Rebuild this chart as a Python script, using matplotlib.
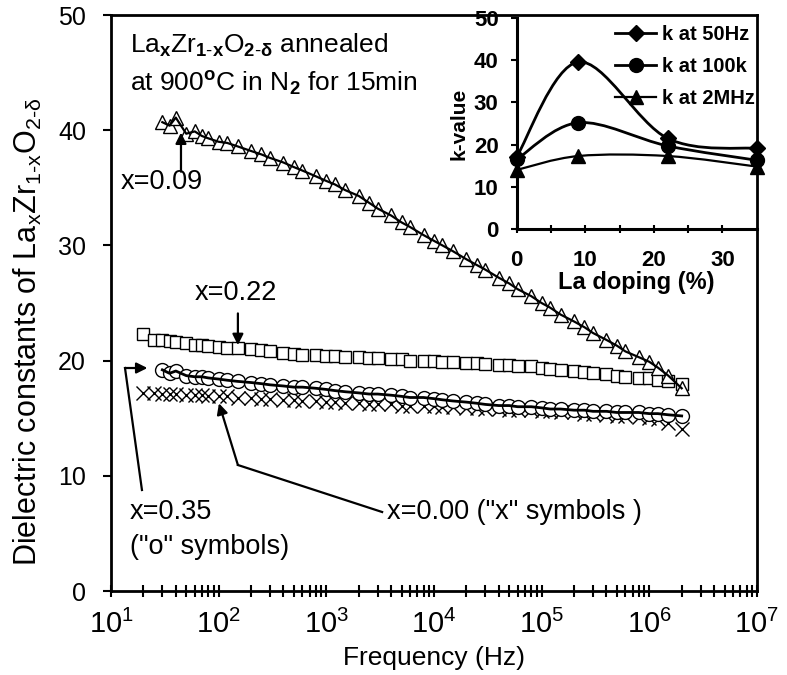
import matplotlib
matplotlib.use('Agg')
import matplotlib.pyplot as plt
from matplotlib.path import Path
from matplotlib.patches import PathPatch
from matplotlib.lines import Line2D
from matplotlib.ticker import LogLocator, FixedLocator, NullFormatter, FixedFormatter
import numpy as np

plt.rcParams['font.family'] = ['Liberation Sans', 'DejaVu Sans']
plt.rcParams['mathtext.fontset'] = 'custom'
plt.rcParams['mathtext.rm'] = 'Liberation Sans'
plt.rcParams['mathtext.it'] = 'Liberation Sans:italic'
plt.rcParams['mathtext.bf'] = 'Liberation Sans:bold'

# ---------------- data ----------------
freq_all = [20, 25, 30, 35, 40, 50, 60, 70, 80,
            100, 120, 150, 200, 250, 300, 400, 500, 600, 800,
            1e3, 1.2e3, 1.5e3, 2e3, 2.5e3, 3e3, 4e3, 5e3, 6e3, 8e3,
            1e4, 1.2e4, 1.5e4, 2e4, 2.5e4, 3e4, 4e4, 5e4, 6e4, 8e4,
            1e5, 1.2e5, 1.5e5, 2e5, 2.5e5, 3e5, 4e5, 5e5, 6e5, 8e5,
            1e6, 1.2e6, 1.5e6, 2e6]
freq_from30 = freq_all[2:]

k_x009 = [40.7, 40.4, 41.1, 39.7, 39.9, 39.5, 39.3,
          39.0, 38.9, 38.6, 38.2, 37.9, 37.6, 37.2, 36.8, 36.5, 36.0,
          35.6, 35.3, 34.8, 34.3, 33.7, 33.2, 32.6, 32.0, 31.6, 30.9,
          30.4, 30.0, 29.5, 28.8, 28.3, 27.9, 27.2, 26.7, 26.2, 25.6,
          25.0, 24.6, 24.0, 23.4, 22.9, 22.4, 21.8, 21.3, 20.8, 20.3,
          19.9, 19.4, 18.7, 17.6]
k_x022 = [22.3, 21.8, 21.8, 21.7, 21.6, 21.5, 21.4, 21.4, 21.3,
          21.2, 21.1, 21.1, 21.0, 20.9, 20.8, 20.7, 20.6, 20.5, 20.5,
          20.4, 20.4, 20.3, 20.3, 20.2, 20.2, 20.1, 20.1, 20.0, 20.0,
          20.0, 19.9, 19.9, 19.8, 19.8, 19.7, 19.6, 19.6, 19.5, 19.5,
          19.4, 19.3, 19.2, 19.1, 19.0, 18.9, 18.8, 18.7, 18.6, 18.5,
          18.5, 18.3, 18.2, 18.0]
k_x035 = [19.2, 18.9, 19.1, 18.7, 18.6, 18.6, 18.5,
          18.4, 18.3, 18.2, 18.1, 18.0, 17.9, 17.8, 17.7, 17.7, 17.6,
          17.5, 17.4, 17.3, 17.2, 17.1, 17.1, 17.0, 16.9, 16.8, 16.8,
          16.7, 16.6, 16.5, 16.4, 16.3, 16.2, 16.1, 16.1, 16.0, 16.0,
          15.9, 15.8, 15.8, 15.7, 15.7, 15.6, 15.6, 15.5, 15.5, 15.5,
          15.4, 15.4, 15.3, 15.2]
k_x000 = [17.2, 17.2, 17.1, 17.1, 17.1, 17.0, 17.0, 17.0, 16.9,
          16.9, 16.9, 16.8, 16.8, 16.7, 16.7, 16.6, 16.6, 16.5, 16.5,
          16.4, 16.4, 16.3, 16.3, 16.2, 16.2, 16.2, 16.1, 16.1, 16.1,
          16.1, 16.0, 16.0, 15.9, 15.9, 15.8, 15.8, 15.7, 15.7, 15.7,
          15.6, 15.6, 15.5, 15.5, 15.4, 15.4, 15.3, 15.2, 15.2, 15.1,
          15.0, 14.9, 14.6, 14.1]

# inset
la_doping = [0, 9, 22, 35]
k_50Hz = [17.1, 39.6, 21.5, 19.1]
k_100k = [16.5, 25.2, 19.7, 16.3]
k_2MHz = [14.0, 17.3, 17.3, 14.8]
inset_labels = ['k at 50Hz', 'k at 100k', 'k at 2MHz']

xtick_vals = [1e1, 1e2, 1e3, 1e4, 1e5, 1e6, 1e7]
xtick_labels = [r'$10^{1}$', r'$10^{2}$', r'$10^{3}$', r'$10^{4}$', r'$10^{5}$', r'$10^{6}$', r'$10^{7}$']
ytick_vals = [0, 10, 20, 30, 40, 50]


def smooth_path(xs, ys):
    pts = np.column_stack([xs, ys]).astype(float)
    n = len(pts)
    verts = [pts[0]]
    codes = [Path.MOVETO]
    for i in range(n - 1):
        p0 = pts[i - 1] if i > 0 else pts[i]
        p1 = pts[i]
        p2 = pts[i + 1]
        p3 = pts[i + 2] if i + 2 < n else pts[i + 1]
        c1 = p1 + (p2 - p0) / 6.0
        c2 = p2 - (p3 - p1) / 6.0
        verts += [c1, c2, p2]
        codes += [Path.CURVE4] * 3
    return Path(verts, codes)


fig = plt.figure(figsize=(7.87, 6.75), dpi=100)
ax = fig.add_axes([0.1410, 0.1244, 0.8208, 0.8533])

# markers
ax.plot(freq_all, k_x000, ls='none', marker='x', ms=9.5, mew=1.0, color='k', zorder=3)
ax.plot(freq_from30, k_x035, ls='none', marker='o', ms=10, mfc='white', mec='k', mew=1.0, zorder=3)
ax.plot(freq_all, k_x022, ls='none', marker='s', ms=8.5, mfc='white', mec='k', mew=1.0, zorder=3)
ax.plot(freq_from30, k_x009, ls='none', marker='^', ms=10, mfc='white', mec='k', mew=1.0, zorder=3)
# lines
ax.plot(freq_from30, k_x035, color='k', lw=2.0, zorder=4)
ax.plot(freq_from30, k_x009, color='k', lw=1.6, zorder=4)

ax.set_xscale('log')
ax.set_xlim(1e1, 1e7)
ax.set_ylim(0, 50)
ax.xaxis.set_major_locator(FixedLocator(xtick_vals))
ax.xaxis.set_major_formatter(FixedFormatter(xtick_labels))
ax.xaxis.set_minor_locator(LogLocator(base=10, subs=np.arange(2, 10), numticks=100))
ax.xaxis.set_minor_formatter(NullFormatter())
ax.set_yticks(ytick_vals)
ax.tick_params(axis='x', which='both', direction='inout', length=9, width=1.5, labelsize=21, pad=9)
ax.tick_params(axis='y', which='major', direction='out', length=6, width=1.5, labelsize=18, pad=12)
for s in ax.spines.values():
    s.set_linewidth(2.0)

ax.set_xlabel('Frequency (Hz)', fontsize=19, labelpad=5)
ax.set_ylabel(r'Dielectric constants of La$_{\mathregular{x}}$Zr$_{\mathregular{1\text{-}x}}$O$_{\mathregular{2\text{-}\delta}}$',
              fontsize=22)
ax.yaxis.set_label_coords(-0.104, 0.45)

# text annotations
ax.text(15, 47.4, r'La$_\mathbf{x}$Zr$_\mathbf{1\text{-}x}$O$_\mathbf{2\text{-}\delta}$ annealed', fontsize=19,
        ha='left', va='center')
ax.text(15, 44.0, r'at 900$^\mathbf{o}$C in N$_\mathbf{2}$ for 15min', fontsize=19,
        ha='left', va='center')

arrow_kw = dict(arrowstyle='-|>', color='k', lw=1.6, mutation_scale=16, shrinkA=0, shrinkB=0)

ax.text(29.8, 35.5, 'x=0.09', fontsize=19.5, ha='center', va='center')
ax.annotate('', xy=(44.7, 39.8), xytext=(44.7, 36.4), arrowprops=arrow_kw)

ax.text(145, 25.9, 'x=0.22', fontsize=19.5, ha='center', va='center')
ax.annotate('', xy=(151, 21.35), xytext=(151, 24.1), arrowprops=arrow_kw)

ax.text(15, 6.86, 'x=0.35', fontsize=19.5, ha='left', va='center')
ax.text(15, 3.82, '("o" symbols)', fontsize=19.5, ha='left', va='center')
ax.plot([19.4, 13.5], [8.77, 19.36], color='k', lw=1.6)
ax.annotate('', xy=(21.8, 19.36), xytext=(13.5, 19.36), arrowprops=arrow_kw)

ax.text(3656, 6.86, 'x=0.00 ("x" symbols )', fontsize=19.5, ha='left', va='center')
ax.plot([3300, 151], [6.86, 10.94], color='k', lw=1.6)
ax.annotate('', xy=(100.7, 16.3), xytext=(151, 10.94), arrowprops=arrow_kw)

# ---------------- inset ----------------
axi = fig.add_axes([0.6565, 0.6607, 0.3050, 0.3126])
axi.patch.set_alpha(0)
series = [(k_50Hz, 'D', 8.5, 2.0), (k_100k, 'o', 10, 2.0), (k_2MHz, '^', 10, 1.6)]
handles = []
for (vals, mk, ms, lw), lab in zip(series, inset_labels):
    axi.add_patch(PathPatch(smooth_path(la_doping, vals), fill=False, ec='k', lw=lw, zorder=3))
    axi.plot(la_doping, vals, ls='none', marker=mk, ms=ms, color='k', zorder=4, clip_on=False)
    handles.append(Line2D([], [], color='k', lw=lw, marker=mk, ms=ms))

axi.set_xlim(0, 35)
axi.set_ylim(0, 50)
axi.set_xticks([0, 10, 20, 30])
axi.set_xticks([5, 15, 25], minor=True)
axi.set_yticks([0, 10, 20, 30, 40, 50])
axi.spines['top'].set_visible(False)
axi.spines['right'].set_visible(False)
axi.spines['left'].set_linewidth(2.2)
axi.spines['bottom'].set_linewidth(2.2)
axi.tick_params(axis='x', which='both', direction='inout', length=6, width=1.5, labelsize=16, pad=12)
axi.tick_params(axis='y', which='major', direction='out', length=4, width=1.5, labelsize=16, pad=9)
for lbl in axi.get_xticklabels() + axi.get_yticklabels():
    lbl.set_fontweight('bold')
axi.set_xlabel('La doping (%)', fontsize=17, fontweight='bold', labelpad=0)
axi.set_ylabel('k-value', fontsize=15, fontweight='bold', labelpad=4)

leg = axi.legend(handles, inset_labels, loc='upper right', frameon=False,
                 prop={'weight': 'bold', 'size': 14.5}, handlelength=2.0, handletextpad=0.3,
                 labelspacing=0.65, borderaxespad=0.0, borderpad=0.1,
                 bbox_to_anchor=(1.0, 0.975))

fig.savefig('out.png', dpi=100)
